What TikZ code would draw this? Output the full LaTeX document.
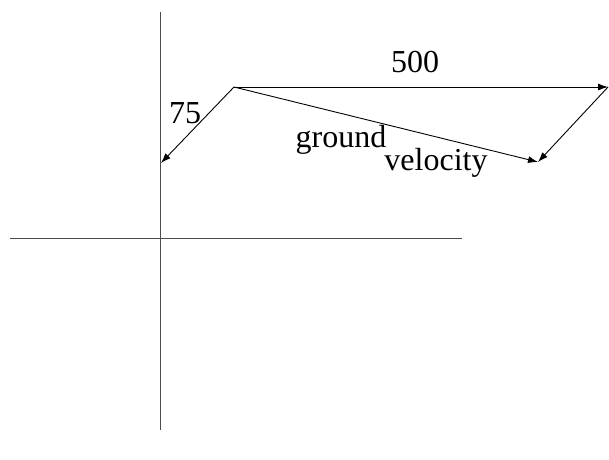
\documentclass[tikz,border=0pt]{standalone}
\usepackage{fontspec}
\setmainfont{Liberation Serif}
\usetikzlibrary{arrows.meta}

\begin{document}
\begin{tikzpicture}[
    x=1pt, y=-1pt,
    axis/.style={line width=0.9pt, black!70},
    vec/.style={-{Latex[length=10pt, width=7pt]}, line width=0.9pt},
    lbl/.style={anchor=base, inner sep=0pt, font=\fontsize{32}{38}\selectfont}
]
\useasboundingbox (0,0) rectangle (609,459);

% Axes
\coordinate (top) at (160, 12);
\coordinate (bottom) at (160, 430);
\coordinate (left) at (10, 238);
\coordinate (right) at (462, 238);
\draw[axis] (top) -- (bottom);
\draw[axis] (left) -- (right);

% Points
\coordinate (start) at (234, 87);
\coordinate (wind) at (161, 163);
\coordinate (air) at (608, 87);
\coordinate (ground) at (538, 162);

% Vectors
\draw[vec] (start) -- (wind);
\draw[vec] (start) -- (air);
\draw[vec] (air) -- (ground);
\draw[vec] (start) -- (ground);

% Labels
\node[lbl] (speed) at (415, 72) {500};
\node[lbl] (windspeed) at (185, 123) {75};
\node[lbl] (gnd) at (341, 147) {ground};
\node[lbl] (vel) at (436, 170) {velocity};

\end{tikzpicture}
\end{document}
